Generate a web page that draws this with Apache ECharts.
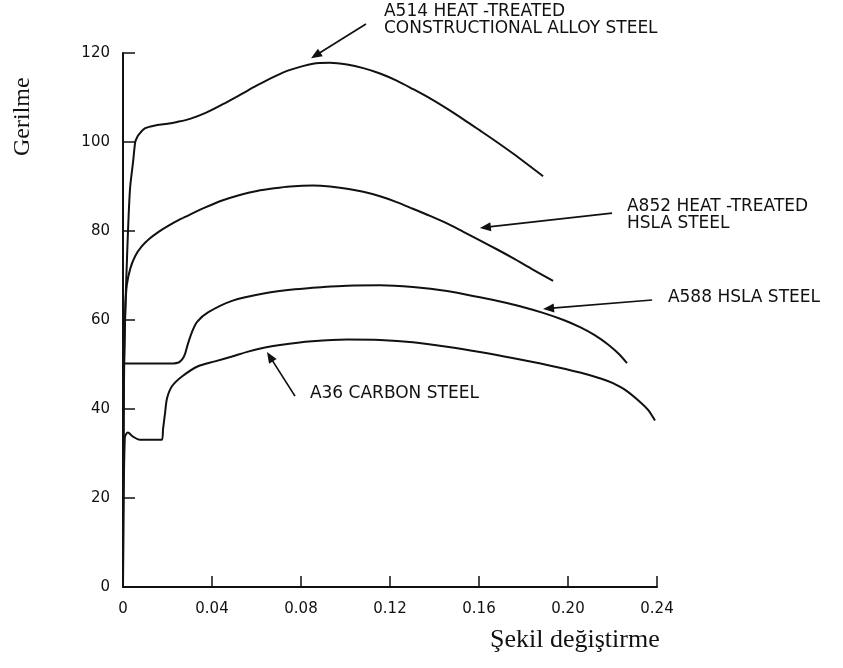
<!DOCTYPE html>
<html>
<head>
<meta charset="utf-8">
<script src="https://cdn.jsdelivr.net/npm/echarts@6/dist/echarts.min.js"></script>
<style>
html,body{margin:0;padding:0;background:#fff;}
#chart{width:843px;height:668px;}
</style>
</head>
<body>
<div id="chart"></div>
<script>
// ---- data (strain, stress) ----
const xTicks = [0, 0.04, 0.08, 0.12, 0.16, 0.20, 0.24];
const yTicks = [0, 20, 40, 60, 80, 100, 120];

const a514Strain = [0, 0.0003, 0.0009, 0.0018, 0.0031, 0.0045, 0.0055, 0.0062, 0.0070, 0.0100, 0.0153, 0.0200, 0.0243, 0.0301, 0.0374, 0.0449, 0.0530, 0.0602, 0.0680, 0.0751, 0.0854, 0.0930, 0.1007, 0.1080, 0.1155, 0.1230, 0.1303, 0.1380, 0.1456, 0.1530, 0.1604, 0.1680, 0.1753, 0.1888];
const a514Stress = [0, 40, 59.6, 73.9, 89.1, 95.4, 100, 100.9, 101.6, 103.1, 103.8, 104.1, 104.5, 105.2, 106.6, 108.5, 110.7, 112.7, 114.7, 116.2, 117.6, 117.8, 117.4, 116.6, 115.4, 113.8, 111.9, 109.8, 107.5, 105.1, 102.6, 100.0, 97.4, 92.3];

const a852Strain = [0, 0.0003, 0.0010, 0.0017, 0.0033, 0.0055, 0.0085, 0.0120, 0.0160, 0.0205, 0.0260, 0.0301, 0.0370, 0.0449, 0.0525, 0.0602, 0.0680, 0.0751, 0.0854, 0.0930, 0.1007, 0.1080, 0.1155, 0.1230, 0.1303, 0.1380, 0.1456, 0.1530, 0.1604, 0.1680, 0.1753, 0.1840, 0.1933];
const a852Stress = [0, 45, 62, 67.8, 71.6, 74.4, 76.6, 78.3, 79.8, 81.2, 82.7, 83.7, 85.3, 86.9, 88.1, 89.0, 89.6, 90.0, 90.2, 90.0, 89.5, 88.8, 87.8, 86.5, 85.0, 83.4, 81.7, 79.8, 77.9, 75.9, 73.9, 71.4, 68.8];

const a588Strain = [0, 0.0003, 0.0012, 0.0200, 0.0247, 0.0265, 0.0279, 0.0292, 0.0310, 0.0333, 0.0382, 0.0490, 0.0638, 0.0773, 0.0900, 0.1007, 0.1155, 0.1303, 0.1456, 0.1604, 0.1700, 0.1784, 0.1888, 0.1980, 0.2054, 0.2120, 0.2180, 0.2230, 0.2265];
const a588Stress = [0, 50.2, 50.2, 50.2, 50.4, 51.1, 52.4, 54.7, 57.3, 59.6, 61.7, 64.3, 66.0, 66.9, 67.4, 67.7, 67.8, 67.4, 66.5, 65.1, 64.1, 63.1, 61.6, 60.0, 58.4, 56.6, 54.5, 52.3, 50.3];

const a36Strain = [0, 0.0008, 0.0022, 0.0045, 0.0075, 0.0175, 0.0180, 0.0189, 0.0198, 0.0220, 0.0265, 0.0337, 0.0413, 0.0490, 0.0562, 0.0638, 0.0706, 0.0850, 0.1007, 0.1155, 0.1303, 0.1456, 0.1604, 0.1756, 0.1906, 0.2054, 0.2150, 0.2202, 0.2260, 0.2324, 0.2360, 0.2391];
const a36Stress = [0, 33.5, 34.7, 33.8, 33.1, 33.1, 35.5, 39.1, 42.4, 45.1, 47.3, 49.6, 50.7, 51.8, 52.9, 53.8, 54.4, 55.2, 55.6, 55.5, 55.0, 54.0, 52.8, 51.4, 49.9, 48.2, 46.8, 45.8, 44.2, 41.6, 39.8, 37.4];

const seriesNames = ['A514', 'A852', 'A588', 'A36'];
const calloutTexts = [
  'A514 HEAT -TREATED\nCONSTRUCTIONAL ALLOY STEEL',
  'A852 HEAT -TREATED\nHSLA STEEL',
  'A588 HSLA STEEL',
  'A36 CARBON STEEL'
];
const xTitle = 'Şekil değiştirme';
const yTitle = 'Gerilme';

// ---- callout placement (data units) ----
const calloutArrows = [
  [[0.1092, 126.5], [0.0845, 118.8]],
  [[0.2198, 84.0], [0.1604, 80.7]],
  [[0.2378, 64.5], [0.1888, 62.5]],
  [[0.0773, 42.9], [0.0647, 52.8]]
];
const calloutAnchors = [
  [0.1173, 127.3],
  [0.2265, 83.6],
  [0.2449, 65.0],
  [0.0840, 43.4]
];

const zip = (xs, ys) => xs.map((x, i) => [x, ys[i]]);
const curves = [zip(a514Strain, a514Stress), zip(a852Strain, a852Stress), zip(a588Strain, a588Stress), zip(a36Strain, a36Stress)];

const ink = '#111';

const series = curves.map((d, i) => ({
  name: seriesNames[i],
  type: 'line',
  data: d,
  smooth: 0.3,
  showSymbol: false,
  symbol: 'none',
  clip: false,
  silent: true,
  animation: false,
  lineStyle: {color: ink, width: 2},
  emphasis: {disabled: true}
}));

const chart = echarts.init(document.getElementById('chart'), null, {renderer: 'canvas'});
chart.setOption({
  animation: false,
  backgroundColor: '#fff',
  grid: {left: 123, right: 186, top: 53, bottom: 81, containLabel: false},
  xAxis: {
    type: 'value',
    min: xTicks[0], max: xTicks[xTicks.length - 1], interval: 0.04,
    axisLine: {show: true, onZero: false, lineStyle: {color: ink, width: 2}},
    axisTick: {show: true, inside: true, length: 11, lineStyle: {color: ink, width: 1.5}},
    splitLine: {show: false},
    axisLabel: {
      margin: 15, color: ink, fontFamily: 'DejaVu Sans', fontSize: 15,
      formatter: v => (v === 0 ? '0' : v.toFixed(2))
    }
  },
  yAxis: {
    type: 'value',
    min: yTicks[0], max: yTicks[yTicks.length - 1], interval: 20,
    axisLine: {show: true, onZero: false, lineStyle: {color: ink, width: 2}},
    axisTick: {show: true, inside: true, length: 12, lineStyle: {color: ink, width: 1.5}},
    splitLine: {show: false},
    axisLabel: {margin: 13, color: ink, fontFamily: 'DejaVu Sans', fontSize: 15}
  },
  series: series
});

// ---- callouts and axis titles, positioned through the chart's own scales ----
const toPx = p => chart.convertToPixel({gridIndex: 0}, p);
const graphics = [
  {type: 'text', left: 490, top: 627, silent: true,
   style: {text: xTitle, font: '26px "Liberation Serif", "Times New Roman", serif', fill: ink}},
  {type: 'text', x: 11, y: 156, rotation: Math.PI / 2, silent: true,
   style: {text: yTitle, font: '24px "Liberation Serif", "Times New Roman", serif', fill: ink}}
];
calloutArrows.forEach((arr, i) => {
  const t = toPx(arr[0]);
  const h = toPx(arr[1]);
  const dx = h[0] - t[0], dy = h[1] - t[1];
  const len = Math.sqrt(dx * dx + dy * dy);
  const ux = dx / len, uy = dy / len;
  const headLen = 11, headHalf = 4.5;
  const bx = h[0] - ux * headLen, by = h[1] - uy * headLen;
  graphics.push({
    type: 'line', silent: true,
    shape: {x1: t[0], y1: t[1], x2: bx + ux * 2, y2: by + uy * 2},
    style: {stroke: ink, lineWidth: 1.7}
  });
  graphics.push({
    type: 'polygon', silent: true,
    shape: {points: [[h[0], h[1]], [bx - uy * headHalf, by + ux * headHalf], [bx + uy * headHalf, by - ux * headHalf]]},
    style: {fill: ink}
  });
  const a = toPx(calloutAnchors[i]);
  graphics.push({
    type: 'text', x: a[0], y: a[1], silent: true,
    style: {
      text: calloutTexts[i], fill: ink,
      font: '17px "DejaVu Sans", sans-serif',
      lineHeight: 17, align: 'left', verticalAlign: 'middle'
    }
  });
});
chart.setOption({graphic: graphics});
</script>
</body>
</html>
